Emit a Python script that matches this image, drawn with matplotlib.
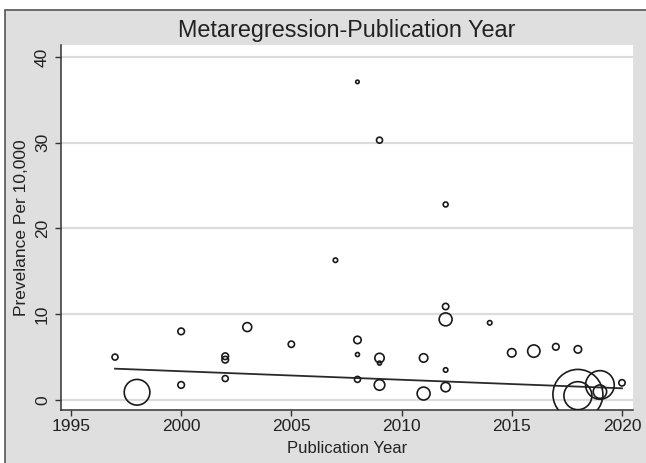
import numpy as np
import matplotlib.pyplot as plt
from matplotlib.patches import Rectangle

# donnees (annee, prevalence /10 000, poids de l'etude)
years = [1997, 1998, 2000, 2000, 2002, 2002, 2002, 2003, 2005, 2007,
         2008, 2008, 2008, 2008, 2009, 2009, 2009, 2009, 2011, 2011,
         2012, 2012, 2012, 2012, 2012, 2014, 2015, 2016, 2017, 2018,
         2018, 2018, 2019, 2019, 2020]
prevalence = [5.0, 0.9, 8.0, 1.75, 5.1, 4.7, 2.5, 8.5, 6.5, 16.3,
              37.1, 7.0, 5.3, 2.4, 30.3, 4.9, 4.3, 1.75, 4.9, 0.75,
              22.8, 10.9, 9.4, 3.5, 1.5, 9.0, 5.5, 5.7, 6.2, 5.9,
              0.65, 0.5, 1.75, 0.97, 2.0]
weight = [9, 165, 11, 11, 11, 11, 9, 20, 10, 5,
          3, 14, 4, 9, 9, 22, 4, 28, 18, 42,
          6, 10, 42, 5, 22, 5, 18, 38, 11, 14,
          625, 196, 205, 45, 10]

# droite de meta-regression
fit_years = [1997, 2020]
fit_vals = [3.65, 1.36]

xticks = [1995, 2000, 2005, 2010, 2015, 2020]
yticks = [0, 10, 20, 30, 40]

plt.rcParams['font.family'] = ['Liberation Sans', 'DejaVu Sans']

fig = plt.figure(figsize=(6.46, 4.63), dpi=100)
fig.patch.set_facecolor('white')
# cadre gris de fond
fig.patches.append(Rectangle((5/646, -0.1), 1.2, 1 - 10/463 + 0.1,
                             transform=fig.transFigure, facecolor='#dfdfdf',
                             edgecolor='#555555', lw=1.2, zorder=-1))

ax = fig.add_axes([61/646, 53/463, 572/646, 365/463])
ax.set_zorder(1)
ax.set_facecolor('white')
ax.set_xlim(1994.55, 2020.5)
ax.set_ylim(-1.17, 41.4)

for t in yticks:
    ax.axhline(t, color='#dcdcdc', lw=1.6, zorder=1)

s = np.array(weight) * 2.07
ax.scatter(years, prevalence, s=s, facecolors='none', edgecolors='#1a1a1a',
           linewidths=1.2, zorder=3)
ax.plot(fit_years, fit_vals, color='#2a2a2a', lw=1.3, zorder=2)

for side in ['top', 'right']:
    ax.spines[side].set_visible(False)
for side in ['left', 'bottom']:
    ax.spines[side].set_color('#333333')
    ax.spines[side].set_linewidth(1.1)

ax.set_xticks(xticks)
ax.set_yticks(yticks)
ax.tick_params(axis='both', colors='#333333', labelcolor='#222222',
               labelsize=12.5, length=4, width=1)
ax.tick_params(axis='x', pad=2.5)
ax.tick_params(axis='y', pad=4)
for lab in ax.get_yticklabels():
    lab.set_rotation(90)
    lab.set_va('center')

ax.set_xlabel('Publication Year', fontsize=12, color='#222222', labelpad=5)
ax.set_ylabel('Prevelance Per 10,000', fontsize=12.5, color='#222222', labelpad=4)
fig.text((61 + 633) / 2 / 646, 1 - 30/463, 'Metaregression-Publication Year',
         ha='center', va='center', fontsize=16.8, color='#222222')

fig.savefig('out.png', dpi=100)
